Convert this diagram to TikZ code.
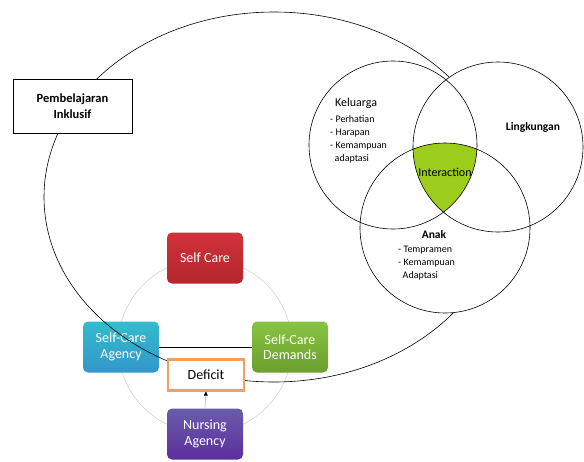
\documentclass[tikz,border=0pt]{standalone}
\usepackage{fontspec}
\setmainfont{Carlito}
\usepackage{tikz}
\usetikzlibrary{positioning,arrows.meta}
\definecolor{merah}{HTML}{D0323A}
\definecolor{merahtua}{HTML}{B4262E}
\definecolor{biru}{HTML}{34BCCC}
\definecolor{birutua}{HTML}{3496CA}
\definecolor{hijau}{HTML}{86C444}
\definecolor{hijautua}{HTML}{6C9E2C}
\definecolor{ungu}{HTML}{6A5CAA}
\definecolor{ungutua}{HTML}{5C2E9C}
\definecolor{oranye}{HTML}{F0A060}
\definecolor{irisan}{HTML}{9CCC1C}

\begin{document}
\begin{tikzpicture}[
  x=1pt, y=-1pt,
  kotak/.style={rounded corners=5pt, minimum width=76pt, minimum height=51pt,
    align=center, text=white, inner sep=2pt, font=\fontsize{14}{15.5}\selectfont},
  garis/.style={line width=0.6pt},
  daftar/.style={anchor=north west, align=left, inner sep=0pt,
    font=\fontsize{10}{13}\selectfont}
]
  \useasboundingbox (0,0) rectangle (584,461);

  % --- siklus self care
  \draw[gray!40, line width=0.5pt] (205,346) circle (87pt);
  \node[kotak, top color=merah, bottom color=merahtua] (sc) at (205,258) {Self Care};
  \node[kotak, top color=biru, bottom color=birutua] (sca) at (121,347) {Self-Care\\Agency};
  \node[kotak, top color=hijau, bottom color=hijautua] (scd) at (290,347) {Self-Care\\Demands};
  \node[kotak, top color=ungu, bottom color=ungutua] (na) at (205,434) {Nursing\\Agency};
  \draw[garis] (sca.east) -- (scd.west);

  % --- elips besar
  \draw[garis] (274,197) ellipse [x radius=230pt, y radius=185pt];

  % --- deficit
  \node[draw=oranye, line width=2.2pt, fill=white, minimum width=76pt, minimum height=31pt,
        font=\fontsize{14}{15}\selectfont] (def) at (206,375) {Deficit};
  \draw[gray!60, line width=0.5pt, -{Triangle[length=4pt, width=4pt, black]}] (na.north) -- (def.south);

  % --- pembelajaran inklusif
  \node[draw, garis, fill=white, minimum width=119pt, minimum height=54pt, align=center,
        font=\bfseries\fontsize{12.5}{16.5}\selectfont] (pi) at (72.5,106) {Pembelajaran\\Inklusif};

  % --- venn
  \coordinate (kel) at (393,145);
  \coordinate (ling) at (498,147);
  \coordinate (anak) at (445,228);
  \fill[white] (kel) circle (84pt) (ling) circle (85pt) (anak) circle (85pt);
  \begin{scope}
    \clip (kel) circle (84pt);
    \clip (ling) circle (85pt);
    \fill[irisan] (anak) circle (85pt);
  \end{scope}
  \draw[garis] (kel) circle (84pt) (ling) circle (85pt) (anak) circle (85pt);

  \node[font=\fontsize{12}{14}\selectfont] (tkel) at (356,103) {Keluarga};
  \node[daftar] (lkel) at (330,115) {- Perhatian\\- Harapan\\- Kemampuan\\\ \ adaptasi};
  \node[font=\bfseries\fontsize{11.5}{14}\selectfont] (tling) at (533,127) {Lingkungan};
  \node[font=\fontsize{12}{14}\selectfont] (tint) at (445,172) {Interaction};
  \node[font=\bfseries\fontsize{11.5}{14}\selectfont] (tanak) at (434,235) {Anak};
  \node[daftar] (lanak) at (398,246) {- Tempramen\\- Kemampuan\\\ \ Adaptasi};
\end{tikzpicture}
\end{document}
